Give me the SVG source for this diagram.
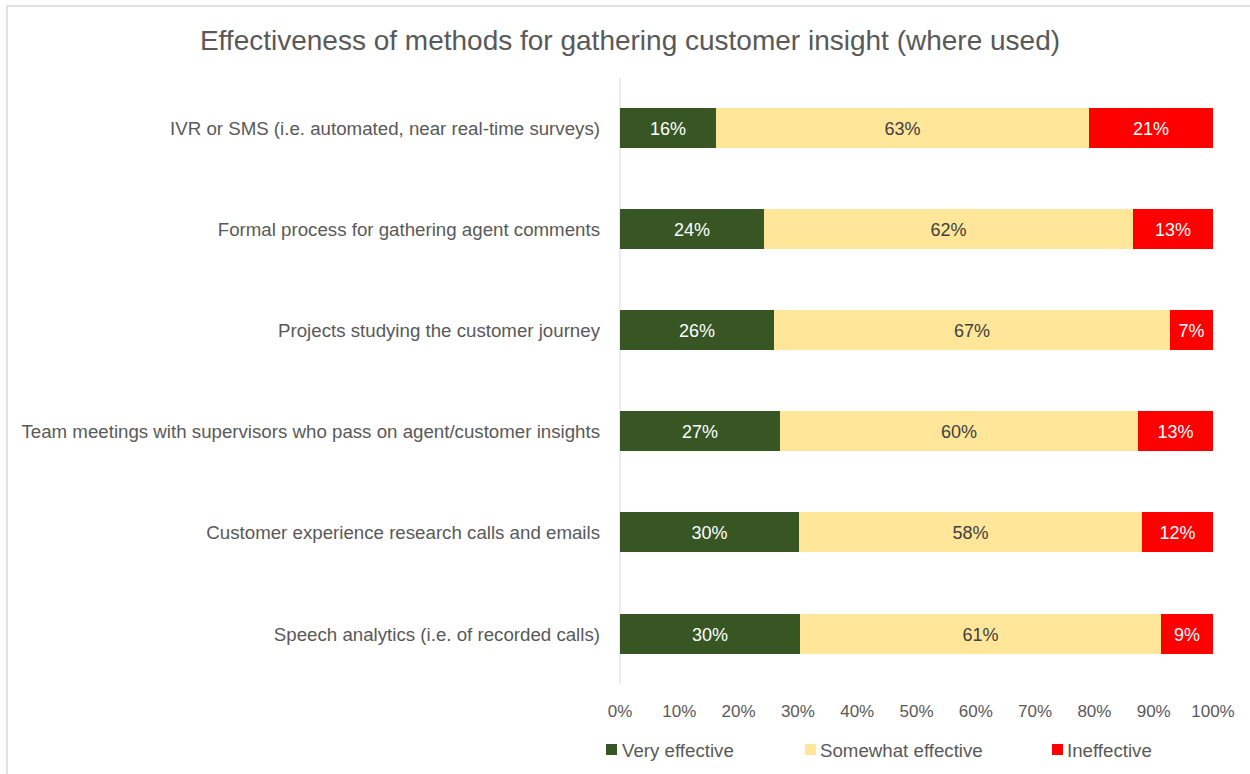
<svg xmlns="http://www.w3.org/2000/svg" width="1250" height="774" viewBox="0 0 1250 774">
<style>
.t{font-family:"Liberation Sans",Arial,sans-serif;fill:#595959}
.title{font-size:28px}
.cat{font-size:18.7px;text-anchor:end}
.tick{font-size:17px;text-anchor:middle}
.leg{font-size:18.7px}
.vw{font-family:"Liberation Sans",Arial,sans-serif;font-size:18px;fill:#ffffff;text-anchor:middle}
.vd{font-family:"Liberation Sans",Arial,sans-serif;font-size:18px;fill:#404040;text-anchor:middle}
.g{fill:#375623}
.y{fill:#FFE699}
.r{fill:#FF0000}
</style>
<rect x="7" y="6" width="1250" height="780" fill="#ffffff" stroke="#d9d9d9" stroke-width="1.5"/>
<text class="t title" x="630" y="50" text-anchor="middle">Effectiveness of methods for gathering customer insight (where used)</text>
<g id="axis">
<line x1="620" y1="78" x2="620" y2="684" stroke="#d9d9d9" stroke-width="1"/>
<text class="t tick" x="620" y="717">0%</text>
<text class="t tick" x="679.3" y="717">10%</text>
<text class="t tick" x="738.6" y="717">20%</text>
<text class="t tick" x="797.9" y="717">30%</text>
<text class="t tick" x="857.2" y="717">40%</text>
<text class="t tick" x="916.5" y="717">50%</text>
<text class="t tick" x="975.8" y="717">60%</text>
<text class="t tick" x="1035.1" y="717">70%</text>
<text class="t tick" x="1094.4" y="717">80%</text>
<text class="t tick" x="1153.7" y="717">90%</text>
<text class="t tick" x="1213" y="717">100%</text>
</g>
<g id="row1">
<text class="t cat" x="600" y="134.5">IVR or SMS (i.e. automated, near real-time surveys)</text>
<rect class="g" x="620" y="108" width="96" height="40"/>
<rect class="y" x="716" y="108" width="373" height="40"/>
<rect class="r" x="1089" y="108" width="124" height="40"/>
<text class="vw" x="668" y="134.5">16%</text>
<text class="vd" x="902.5" y="134.5">63%</text>
<text class="vw" x="1151" y="134.5">21%</text>
</g>
<g id="row2">
<text class="t cat" x="600" y="235.5">Formal process for gathering agent comments</text>
<rect class="g" x="620" y="209" width="144" height="40"/>
<rect class="y" x="764" y="209" width="369" height="40"/>
<rect class="r" x="1133" y="209" width="80" height="40"/>
<text class="vw" x="692" y="235.5">24%</text>
<text class="vd" x="948.5" y="235.5">62%</text>
<text class="vw" x="1173" y="235.5">13%</text>
</g>
<g id="row3">
<text class="t cat" x="600" y="336.5">Projects studying the customer journey</text>
<rect class="g" x="620" y="310" width="154" height="40"/>
<rect class="y" x="774" y="310" width="396" height="40"/>
<rect class="r" x="1170" y="310" width="43" height="40"/>
<text class="vw" x="697" y="336.5">26%</text>
<text class="vd" x="972" y="336.5">67%</text>
<text class="vw" x="1191.5" y="336.5">7%</text>
</g>
<g id="row4">
<text class="t cat" x="600" y="437.5">Team meetings with supervisors who pass on agent/customer insights</text>
<rect class="g" x="620" y="411" width="160" height="40"/>
<rect class="y" x="780" y="411" width="358" height="40"/>
<rect class="r" x="1138" y="411" width="75" height="40"/>
<text class="vw" x="700" y="437.5">27%</text>
<text class="vd" x="959" y="437.5">60%</text>
<text class="vw" x="1175.5" y="437.5">13%</text>
</g>
<g id="row5">
<text class="t cat" x="600" y="538.5">Customer experience research calls and emails</text>
<rect class="g" x="620" y="512" width="179" height="40"/>
<rect class="y" x="799" y="512" width="343" height="40"/>
<rect class="r" x="1142" y="512" width="71" height="40"/>
<text class="vw" x="709.5" y="538.5">30%</text>
<text class="vd" x="970.5" y="538.5">58%</text>
<text class="vw" x="1177.5" y="538.5">12%</text>
</g>
<g id="row6">
<text class="t cat" x="600" y="640.5">Speech analytics (i.e. of recorded calls)</text>
<rect class="g" x="620" y="614" width="180" height="40"/>
<rect class="y" x="800" y="614" width="361" height="40"/>
<rect class="r" x="1161" y="614" width="52" height="40"/>
<text class="vw" x="710" y="640.5">30%</text>
<text class="vd" x="980.5" y="640.5">61%</text>
<text class="vw" x="1187" y="640.5">9%</text>
</g>
<g id="legend">
<rect class="g" x="606" y="744" width="11" height="11"/>
<text class="t leg" x="622" y="757">Very effective</text>
<rect class="y" x="805" y="744" width="11" height="11"/>
<text class="t leg" x="820" y="757">Somewhat effective</text>
<rect class="r" x="1052" y="744" width="11" height="11"/>
<text class="t leg" x="1067" y="757">Ineffective</text>
</g>
</svg>
